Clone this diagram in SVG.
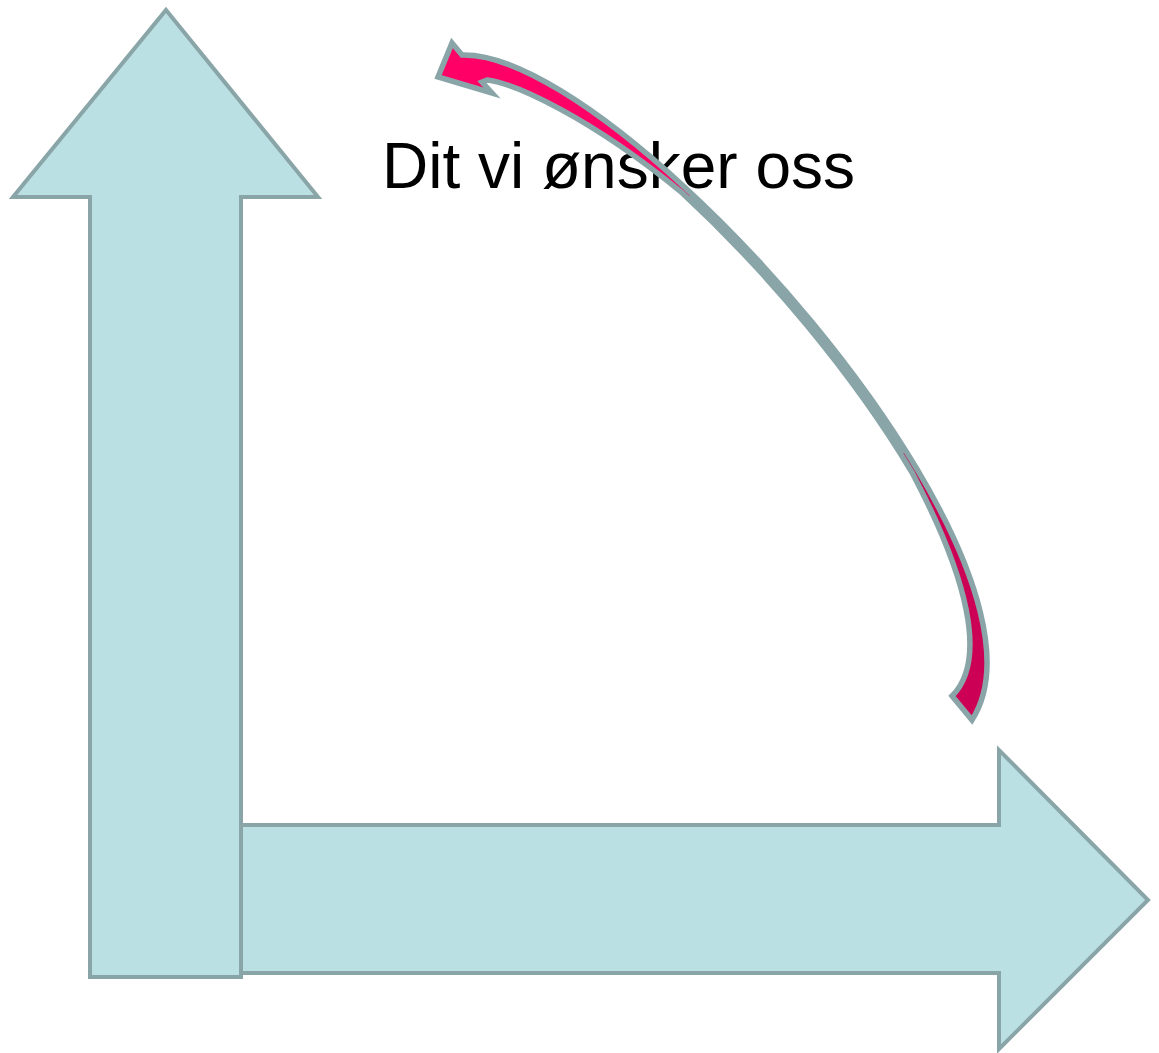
<svg xmlns="http://www.w3.org/2000/svg" width="1159" height="1053" viewBox="0 0 1159 1053">
<style>
.blk{fill:#BBE0E3;stroke:#8AA5A8;stroke-width:4;stroke-linejoin:miter}
.lbl{font-family:"Liberation Sans",Arial,sans-serif;font-size:64px;fill:#000}
</style>
<defs>
<linearGradient id="twist" gradientUnits="userSpaceOnUse" x1="690" y1="196" x2="902" y2="454">
<stop offset="0" stop-color="#FF0066"/>
<stop offset="0" stop-color="#8AA5A8"/>
<stop offset="1" stop-color="#8AA5A8"/>
<stop offset="1" stop-color="#CC0055"/>
</linearGradient>
</defs>
<rect width="1159" height="1053" fill="#fff"/>
<g id="axis-x">
<path class="blk" d="M241,825 L999,825 L999,750 L1148,900 L999,1049 L999,973 L241,973 Z"/>
</g>
<g id="axis-y">
<path class="blk" d="M166,10 L318,197 L241,197 L241,977 L90,977 L90,197 L13,197 Z"/>
</g>
<g id="label">
<text class="lbl" x="382" y="188">Dit vi ønsker oss</text>
</g>
<g id="connectors">
<path fill="url(#twist)" stroke="#8AA5A8" stroke-width="5.5" stroke-linejoin="miter" d="M462,55 C514.14,53.35 598.62,107.78 684.72,187.21 C770.82,266.64 858.55,371.07 917.16,469.41 C977.54,570.73 1007.02,665.6 972,720 L952,696 C988,660 967.2,576.9 912,472.5 C853.4,374.1 766.75,271.05 680.65,191.6 C589.8,117.3 515,83.35 487,80 L482,82 L492,93 L438,77 L452,43 Z"/>
</g>
</svg>
